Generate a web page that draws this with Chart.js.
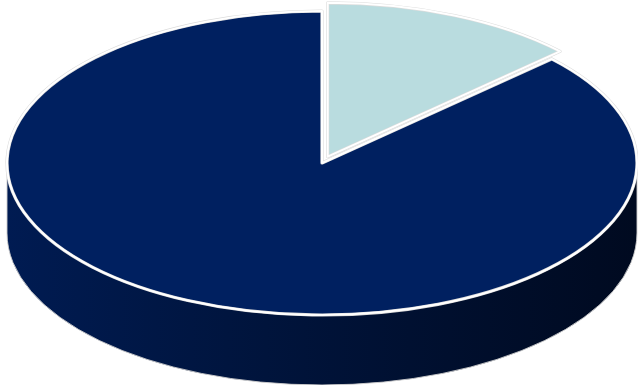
<!DOCTYPE html>
<html lang="en">
<head>
<meta charset="UTF-8">
<title>3D Pie</title>
<style>
  html, body { margin: 0; padding: 0; background: #fff; }
  #chart { display: block; }
</style>
</head>
<body>
<canvas id="chart" width="638" height="385"></canvas>
<script src="https://cdn.jsdelivr.net/npm/chart.js"></script>
<script>
const categories = ['Segment A', 'Segment B'];
const values = [13, 87];
const colors = ['#b9dcdf', '#002060'];
const offsets = [32, 0];

// where the top face of the pie sits on screen (ellipse) and the rim depth
const CX = 322, CY = 163, RX = 315, RY = 152, DEPTH = 70;

function getMap(arc) {
  const r = arc.outerRadius;
  return { ax: arc.x, ay: arc.y, r: r, sx: RX / r, sy: RY / r };
}

function applyMap(ctx, m) {
  ctx.translate(CX, CY);
  ctx.scale(m.sx, m.sy);
  ctx.translate(-m.ax, -m.ay);
}

// parts of [s, e] that face the viewer (lower half of the ellipse)
function frontRanges(s, e) {
  const out = [];
  for (let k = -1; k <= 2; k++) {
    const a = Math.max(s, k * 2 * Math.PI);
    const b = Math.min(e, k * 2 * Math.PI + Math.PI);
    if (b > a) out.push([a, b]);
  }
  return out;
}

function arcGeom(arc, i, m) {
  const o = (offsets[i] || 0) / 4;
  const h = (arc.startAngle + arc.endAngle) / 2;
  const fix = 1 - Math.sin(Math.min(Math.PI, arc.endAngle - arc.startAngle));
  return {
    cx: arc.x + Math.cos(h) * o,
    cy: arc.y + Math.sin(h) * o,
    r: m.r + o * fix
  };
}

const pie3d = {
  id: 'pie3d',
  beforeDatasetsDraw(chart) {
    const ctx = chart.ctx;
    const arcs = chart.getDatasetMeta(0).data;
    const m = getMap(arcs[0]);

    arcs.forEach((arc, i) => {
      const g = arcGeom(arc, i, m);
      frontRanges(arc.startAngle, arc.endAngle).forEach(rg => {
        ctx.save();
        applyMap(ctx, m);
        ctx.beginPath();
        ctx.arc(g.cx, g.cy, g.r, rg[0], rg[1]);
        ctx.arc(g.cx, g.cy + DEPTH / m.sy, g.r, rg[1], rg[0], true);
        ctx.closePath();
        ctx.restore();
        const grad = ctx.createLinearGradient(CX - RX, 0, CX + RX, 0);
        grad.addColorStop(0, '#001b52');
        grad.addColorStop(0.35, '#00153f');
        grad.addColorStop(0.7, '#000f2e');
        grad.addColorStop(1, '#000a20');
        ctx.fillStyle = grad;
        ctx.fill();
        ctx.strokeStyle = 'rgba(205,205,205,0.9)';
        ctx.lineWidth = 1;
        ctx.stroke();
      });
    });

    ctx.save();
    applyMap(ctx, m);
  },
  afterDatasetsDraw(chart) {
    const ctx = chart.ctx;
    ctx.restore();
    const arcs = chart.getDatasetMeta(0).data;
    const m = getMap(arcs[0]);

    [['#dcdcdc', 3.2], ['#ffffff', 2]].forEach(([col, w]) => {
      arcs.forEach((arc, i) => {
        const g = arcGeom(arc, i, m);
        ctx.save();
        applyMap(ctx, m);
        ctx.beginPath();
        ctx.moveTo(g.cx, g.cy);
        ctx.arc(g.cx, g.cy, g.r, arc.startAngle, arc.endAngle);
        ctx.closePath();
        ctx.restore();
        ctx.strokeStyle = col;
        ctx.lineWidth = w;
        ctx.lineJoin = 'round';
        ctx.stroke();
      });
    });
  }
};

new Chart(document.getElementById('chart').getContext('2d'), {
  type: 'pie',
  data: {
    labels: categories,
    datasets: [{
      data: values,
      backgroundColor: colors,
      borderWidth: 0,
      offset: offsets,
      clip: false
    }]
  },
  options: {
    responsive: false,
    animation: false,
    events: [],
    plugins: {
      legend: { display: false },
      tooltip: { enabled: false }
    }
  },
  plugins: [pie3d]
});
</script>
</body>
</html>
